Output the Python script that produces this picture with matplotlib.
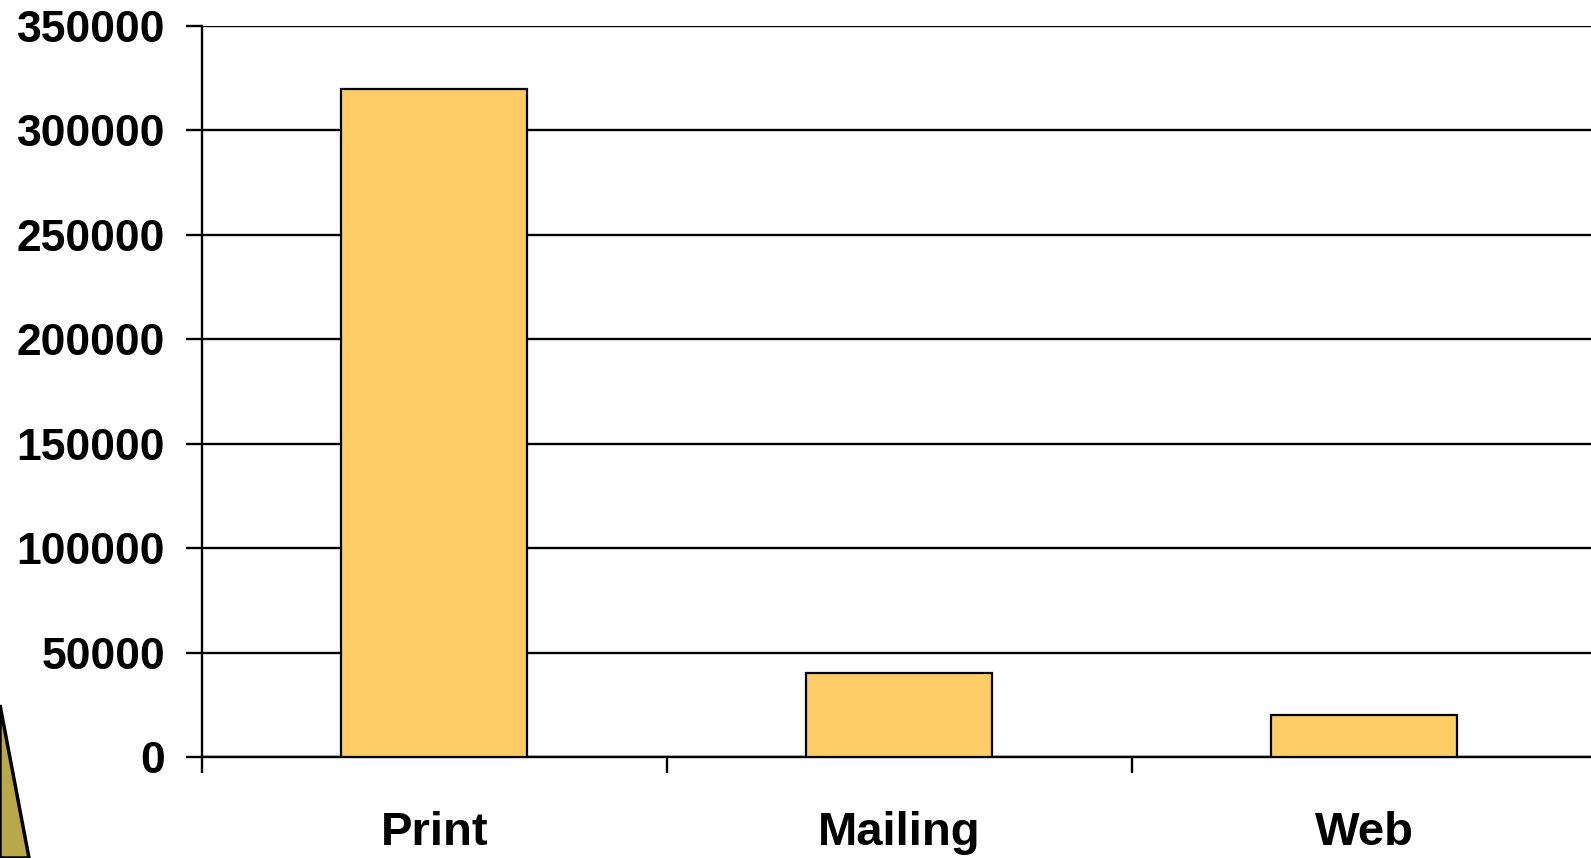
import matplotlib
matplotlib.use("Agg")
import matplotlib.pyplot as plt
from matplotlib.patches import Polygon

categories = ["Print", "Mailing", "Web"]
values = [320000, 40000, 20000]
yticks = [0, 50000, 100000, 150000, 200000, 250000, 300000, 350000]

W, H = 1591, 858
fig = plt.figure(figsize=(W / 100, H / 100), dpi=100)
fig.patch.set_facecolor("white")

# decorative olive shape bottom-left
poly = Polygon([(0, 1 - 705 / H), (29 / W, 0), (0, 0)], closed=True,
               transform=fig.transFigure, facecolor="#B8A84A",
               edgecolor="black", linewidth=2.5, zorder=0)
fig.patches.append(poly)

left, right = 202 / W, 1597 / W
bottom, top = (H - 757) / H, (H - 26) / H
ax = fig.add_axes([left, bottom, right - left, top - bottom])
ax.set_facecolor("none")

x = list(range(len(categories)))
ax.bar(x, values, width=0.4, color="#FFCC66", edgecolor="black",
       linewidth=1.6, zorder=3)

ax.set_xlim(-0.5, len(categories) - 0.5)
ax.set_ylim(0, 350000)
ax.set_yticks(yticks)
ax.set_yticklabels([str(v) for v in yticks])
ax.yaxis.grid(True, color="black", linewidth=1.7, zorder=0)
ax.set_axisbelow(True)

ax.set_xticks(x)
ax.set_xticklabels(categories)
ax.set_xticks([i - 0.5 for i in range(len(categories) + 1)], minor=True)

for s in ["top", "right"]:
    ax.spines[s].set_visible(False)
ax.spines["left"].set_linewidth(1.7)
ax.spines["bottom"].set_linewidth(1.7)

ax.tick_params(axis="y", length=11.5, width=1.7, pad=15,
               labelsize=32)
ax.tick_params(axis="x", which="major", length=0, pad=39, labelsize=34)
ax.tick_params(axis="x", which="minor", length=11.5, width=1.7)

for lab in ax.get_yticklabels() + ax.get_xticklabels():
    lab.set_fontfamily("Liberation Sans")
    lab.set_fontweight("bold")

fig.savefig("out.png", dpi=100, facecolor="white")
